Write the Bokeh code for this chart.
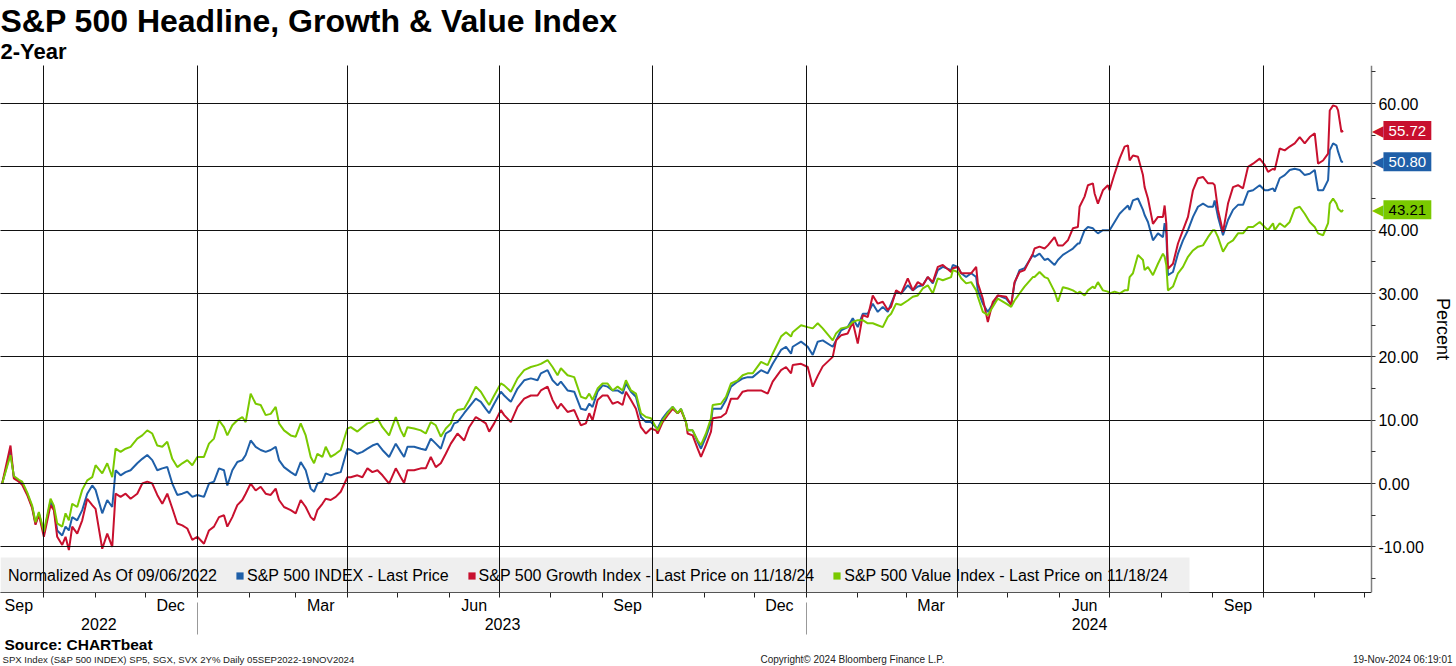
import pandas as pd
from bokeh.plotting import figure
from bokeh.layouts import column
from bokeh.models import (ColumnDataSource, Range1d, FixedTicker, DatetimeAxis, BoxAnnotation,
                          NumeralTickFormatter, Legend, LegendItem, Label, Title)
from bokeh.embed import file_html
from bokeh.resources import INLINE

# ---------------- data ----------------
start_date = "2022-09-05"
# calendar days after start_date
day_offset = [
    1, 6, 8, 11, 13, 16, 19, 21, 23, 26,
    30, 32, 34, 37, 39, 41, 43, 46, 49, 52,
    55, 57, 61, 64, 67, 69, 72, 75, 78, 82,
    85, 88, 91, 94, 97, 100, 103, 106, 109, 112,
    115, 118, 122, 125, 128, 131, 134, 136, 139, 142,
    145, 147, 150, 153, 156, 159, 162, 165, 167, 170,
    174, 177, 180, 183, 186, 188, 190, 193, 195, 198,
    201, 204, 208, 210, 214, 217, 220, 223, 226, 229,
    233, 237, 240, 242, 244, 248, 252, 255, 258, 261,
    264, 267, 270, 272, 274, 278, 281, 285, 288, 291,
    293, 296, 300, 302, 306, 310, 314, 318, 322, 324,
    328, 331, 334, 336, 340, 344, 348, 351, 353, 355,
    358, 361, 364, 367, 370, 373, 375, 378, 381, 384,
    387, 390, 393, 394, 397, 400, 403, 406, 408, 411,
    412, 415, 418, 420, 423, 426, 427, 432, 435, 438,
    442, 445, 448, 451, 456, 460, 463, 468, 471, 474,
    475, 480, 484, 487, 490, 493, 499, 501, 504, 508,
    511, 514, 517, 520, 523, 526, 529, 532, 534, 537,
    540, 544, 547, 550, 553, 556, 559, 562, 565, 570,
    571, 574, 576, 579, 582, 585, 586, 589, 592, 595,
    598, 603, 606, 608, 611, 614, 619, 620, 623, 626,
    628, 632, 634, 637, 640, 643, 646, 647, 650, 652,
    655, 656, 658, 661, 664, 665, 668, 671, 674, 676,
    677, 679, 682, 685, 686, 688, 691, 694, 697, 698,
    699, 700, 703, 706, 709, 712, 715, 718, 721, 724,
    727, 728, 730, 733, 736, 739, 742, 745, 748, 751,
    755, 758, 760, 763, 764, 767, 770, 773, 776, 779,
    782, 785, 788, 790, 793, 796, 797, 799, 801, 802,
    804, 805,
]
value_idx = [
    0, 4.5, 1.2, 0.6, 0.3, -1.4, -3.5, -6.1, -4.5, -7.6,
    -2.4, -3.5, -6.3, -6.8, -4.7, -5.8, -3.2, -3.7, -1.0, 0.5,
    1.0, 2.9, 1.6, 3.2, 1.0, 5.5, 5.0, 5.5, 5.8, 7.1,
    7.6, 8.4, 7.9, 6.0, 5.8, 6.6, 3.9, 2.6, 3.2, 3.7,
    2.9, 4.2, 4.2, 6.3, 7.1, 10.0, 8.9, 7.6, 9.2, 10.0,
    10.5, 9.7, 14.2, 12.6, 12.4, 10.8, 11.0, 12.1, 9.5, 8.4,
    7.6, 7.4, 9.5, 7.6, 4.2, 3.2, 4.7, 4.2, 5.8, 4.2,
    4.7, 5.3, 8.7, 8.9, 8.2, 8.9, 9.5, 9.7, 10.3, 8.9,
    7.6, 10.5, 8.4, 7.4, 8.9, 8.7, 8.4, 7.9, 9.7, 9.2,
    7.4, 8.7, 9.5, 11.0, 11.6, 11.8, 13.2, 15.3, 14.5, 13.2,
    12.4, 13.9, 15.8, 15.5, 14.5, 16.6, 17.9, 18.4, 18.7, 18.9,
    19.5, 18.4, 17.1, 18.2, 17.1, 16.8, 13.7, 13.4, 14.2, 13.2,
    15.0, 15.8, 15.8, 14.7, 15.3, 14.7, 16.3, 14.7, 14.2, 11.1,
    10.5, 10.3, 8.9, 8.4, 10.0, 11.1, 12.1, 11.1, 11.8, 9.7,
    8.4, 8.4, 6.8, 6.1, 7.9, 10.3, 12.4, 12.6, 13.7, 15.8,
    16.3, 17.1, 17.4, 17.4, 19.2, 18.7, 20.5, 23.2, 23.9, 23.2,
    23.9, 25.0, 24.7, 24.5, 25.3, 24.5, 22.6, 23.7, 24.5, 24.7,
    25.5, 25.8, 25.8, 25.3, 25.3, 25.0, 24.7, 26.3, 26.8, 28.4,
    28.2, 28.9, 29.5, 29.7, 30.8, 31.3, 30.0, 32.4, 32.1, 32.6,
    33.7, 33.4, 32.4, 31.6, 31.8, 30.5, 29.5, 27.1, 26.6, 27.9,
    29.2, 28.4, 27.9, 28.9, 30.0, 31.1, 32.6, 32.6, 33.4, 32.6,
    32.4, 30.3, 28.7, 31.0, 30.8, 30.5, 30.0, 30.3, 29.7, 30.5,
    31.1, 30.8, 31.8, 30.5, 30.3, 30.0, 30.3, 30.0, 30.5, 30.5,
    32.6, 33.2, 36.1, 35.3, 33.7, 34.2, 32.9, 34.7, 36.3, 35.8,
    34.5, 30.5, 31.1, 33.2, 34.2, 35.8, 36.8, 37.4, 37.6, 38.9,
    40.0, 40.0, 38.9, 36.6, 37.9, 38.4, 39.5, 39.5, 40.5, 40.5,
    41.3, 40.5, 40.0, 41.1, 40.0, 41.1, 40.5, 41.3, 43.4, 43.7,
    42.6, 41.3, 40.5, 39.5, 39.2, 41.1, 44.2, 45.0, 44.2, 43.4,
    42.9, 43.21,
]
spx = [
    0, 5.0, 1.0, 0.4, 0.0, -1.6, -3.7, -6.3, -4.7, -7.9,
    -2.8, -3.9, -7.4, -8.2, -6.8, -7.4, -5.3, -5.8, -4.2, -1.6,
    -0.3, -1.0, -4.7, -2.6, -3.7, 2.1, 1.3, 1.8, 2.1, 3.2,
    3.9, 4.5, 3.7, 2.1, 2.4, 2.6, 0.0, -1.8, -1.6, -1.3,
    -2.1, -1.8, -2.1, 0.0, 0.3, 2.4, 2.1, -0.3, 2.1, 3.4,
    3.7, 4.5, 6.8, 5.8, 5.3, 5.0, 5.3, 5.8, 3.7, 2.6,
    1.8, 1.3, 3.4, 2.1, -0.8, -1.3, 0.0, 0.3, 1.6, 1.3,
    1.6, 1.8, 5.5, 5.3, 4.7, 5.0, 5.5, 6.0, 6.3, 5.3,
    4.2, 6.3, 5.0, 4.2, 5.8, 5.8, 5.5, 5.3, 7.1, 6.3,
    5.5, 7.9, 8.4, 9.5, 9.7, 11.1, 12.1, 13.4, 12.9, 11.8,
    11.1, 12.6, 14.5, 13.9, 12.9, 15.0, 16.3, 16.6, 16.3, 17.4,
    17.9, 16.3, 15.5, 16.1, 14.7, 14.5, 11.8, 11.6, 12.6, 12.1,
    14.5, 15.5, 15.3, 14.7, 14.7, 14.2, 15.8, 14.5, 13.7, 10.5,
    9.7, 9.7, 8.9, 8.7, 10.3, 11.3, 12.1, 11.1, 11.8, 9.7,
    8.4, 8.4, 6.6, 5.5, 7.4, 9.7, 11.8, 11.8, 13.2, 15.3,
    16.1, 16.6, 16.8, 16.8, 17.9, 17.4, 18.9, 21.1, 21.6, 20.5,
    21.6, 22.4, 21.6, 20.3, 22.4, 22.6, 21.6, 22.6, 24.2, 24.7,
    26.1, 24.7, 26.8, 26.8, 28.4, 27.1, 27.9, 27.1, 28.4, 30.3,
    30.0, 31.3, 30.5, 31.1, 31.3, 32.6, 31.6, 33.7, 34.2, 33.7,
    34.5, 34.2, 33.2, 32.6, 33.2, 32.6, 30.5, 28.4, 27.1, 28.4,
    29.7, 29.2, 28.2, 31.6, 33.7, 34.0, 36.1, 35.8, 36.3, 35.3,
    35.5, 34.5, 35.3, 36.1, 36.6, 37.1, 37.9, 37.9, 40.0, 40.5,
    40.3, 40.0, 39.5, 40.0, 40.0, 40.0, 41.3, 42.6, 43.4, 43.9,
    43.2, 44.7, 45.0, 43.2, 42.4, 41.3, 38.4, 39.5, 38.9, 41.1,
    39.5, 32.9, 33.4, 36.3, 38.4, 40.0, 42.1, 43.7, 44.2, 43.7,
    43.7, 44.7, 42.1, 39.2, 41.6, 43.2, 44.0, 44.0, 46.1, 46.3,
    47.1, 46.3, 46.3, 46.6, 46.1, 48.2, 48.7, 49.5, 49.7, 49.5,
    48.7, 48.9, 49.5, 46.3, 46.3, 47.9, 52.6, 53.7, 53.4, 52.4,
    50.8, 50.80,
]
growth = [
    0, 6.0, 0.8, 0.3, -0.2, -1.8, -3.9, -6.5, -4.9, -8.4,
    -3.4, -4.2, -8.4, -9.7, -8.4, -10.5, -6.8, -7.9, -5.8, -2.4,
    -3.4, -4.0, -10.3, -7.9, -10.0, -1.6, -2.1, -1.6, -2.4, -1.6,
    0.0, 0.3, 0.0, -1.8, -3.2, -1.6, -3.9, -6.3, -6.6, -7.1,
    -8.9, -8.4, -9.5, -7.4, -6.8, -5.3, -5.0, -6.8, -5.3, -3.4,
    -2.6, -1.6, 0.0, -1.1, -0.5, -1.6, -1.8, -0.8, -2.6, -3.7,
    -4.2, -4.7, -2.6, -3.7, -5.3, -5.8, -4.2, -3.2, -2.4, -2.6,
    -2.1, -1.3, 1.0, 1.0, 1.3, 1.0, 2.4, 1.8, 2.1, 1.3,
    0.0, 2.4, 1.0, 0.1, 2.1, 2.1, 2.4, 2.4, 4.2, 2.6,
    3.2, 4.7, 6.3, 7.1, 7.9, 6.8, 8.9, 10.5, 10.0, 9.5,
    8.2, 9.5, 11.6, 10.8, 9.7, 12.1, 13.4, 13.9, 13.9, 14.7,
    15.3, 13.2, 11.8, 12.6, 11.3, 11.6, 9.2, 9.5, 11.1, 10.0,
    13.2, 13.9, 13.9, 12.6, 12.9, 12.4, 14.5, 13.2, 11.8, 8.9,
    7.9, 8.7, 8.4, 7.9, 9.7, 10.8, 11.8, 11.1, 11.6, 9.7,
    7.9, 7.6, 5.5, 4.2, 6.1, 8.2, 10.3, 10.5, 11.1, 13.4,
    13.4, 14.5, 14.7, 14.7, 14.7, 14.2, 16.1, 17.9, 18.4, 17.4,
    18.7, 18.9, 18.4, 15.3, 17.0, 18.5, 20.0, 22.6, 23.4, 23.7,
    25.5, 22.1, 26.6, 26.3, 29.7, 28.4, 28.7, 27.4, 27.9, 30.5,
    30.0, 32.4, 30.5, 31.8, 31.3, 32.6, 31.8, 34.2, 34.5, 33.4,
    34.0, 34.2, 33.2, 33.2, 33.2, 34.2, 31.6, 29.2, 25.5, 28.7,
    29.7, 29.5, 28.2, 31.8, 33.4, 33.7, 36.3, 37.1, 37.4, 37.1,
    37.6, 38.9, 37.6, 37.6, 38.4, 40.3, 40.5, 43.7, 45.3, 47.1,
    47.4, 45.8, 44.2, 46.3, 47.1, 46.3, 48.9, 51.3, 53.2, 53.4,
    51.0, 51.8, 51.6, 48.7, 46.8, 45.0, 41.0, 42.1, 42.1, 43.9,
    41.1, 33.9, 34.7, 37.9, 40.0, 42.1, 46.3, 48.2, 48.4, 47.4,
    47.4, 47.1, 43.2, 39.7, 44.2, 46.8, 47.1, 46.6, 50.0, 50.5,
    51.3, 50.3, 49.2, 49.7, 49.5, 52.9, 52.6, 53.2, 53.7, 54.7,
    53.7, 54.7, 55.3, 50.5, 51.0, 52.1, 58.9, 59.7, 59.5, 58.9,
    55.5, 55.72,
]

series_labels = ["S&P 500 INDEX - Last Price",
                 "S&P 500 Growth Index - Last Price on 11/18/24",
                 "S&P 500 Value Index - Last Price on 11/18/24"]
legend_title = "Normalized As Of 09/06/2022"
last_values = [50.80, 55.72, 43.21]
y_ticks = [-10, 0, 10, 20, 30, 40, 50, 60]
y_minor = [-15, -5, 5, 15, 25, 35, 45, 55, 65]
month_label_dates = ["2022-09-16", "2022-12-16", "2023-03-16", "2023-06-16", "2023-09-16",
                     "2023-12-16", "2024-03-16", "2024-06-16", "2024-09-16"]
month_label_text = ["Sep", "Dec", "Mar", "Jun", "Sep", "Dec", "Mar", "Jun", "Sep"]
year_label_dates = ["2022-11-03", "2023-07-03", "2024-06-19"]
year_label_text = ["2022", "2023", "2024"]
year_breaks = ["2023-01-01", "2024-01-01"]

BLUE = "#1f5fa8"
RED = "#c8102e"
GREEN = "#7ac900"
FONT = "Liberation Sans"


def ms(d):
    return float(pd.Timestamp(d).value // 10**6)


dates = pd.to_datetime(start_date) + pd.to_timedelta(day_offset, unit="D")
src = ColumnDataSource(dict(date=dates, spx=spx, growth=growth, val=value_idx))

x_start = pd.Timestamp(start_date)
axis_date = pd.Timestamp("2024-12-05")     # where the value axis sits
x_end = pd.Timestamp("2025-01-25")         # room for the value-axis labels

p = figure(width=1456, height=636, x_axis_type="datetime", y_axis_location="right",
           x_range=Range1d(x_start, x_end), y_range=Range1d(-17.2, 66),
           toolbar_location=None, output_backend="svg", title=None,
           min_border_left=0, min_border_right=0, min_border_top=65, min_border_bottom=44,
           outline_line_color=None, background_fill_color="white", border_fill_color="white")

# titles
p.add_layout(Title(text="2-Year", text_font=FONT, text_font_size="22px", text_font_style="bold",
                   text_color="black", align="left", offset=0, standoff=0,
                   vertical_align="top"), "above")
p.add_layout(Title(text="S&P 500 Headline, Growth & Value Index", text_font=FONT,
                   text_font_size="32px", text_font_style="bold", text_color="black",
                   align="left", offset=0, standoff=0), "above")

# lines
r_spx = p.line("date", "spx", source=src, line_color=BLUE, line_width=2)
r_gro = p.line("date", "growth", source=src, line_color=RED, line_width=2)
r_val = p.line("date", "val", source=src, line_color=GREEN, line_width=2)

# grid
quarter_starts = [ms(d) for d in pd.date_range("2022-10-01", "2024-10-01", freq="QS")]
month_starts = [ms(d) for d in pd.date_range("2022-10-01", "2024-12-01", freq="MS")]
xgrid, ygrid = p.xgrid[0], p.ygrid[0]
xgrid.ticker = FixedTicker(ticks=quarter_starts)
ygrid.ticker = FixedTicker(ticks=y_ticks)
for g in (xgrid, ygrid):
    g.grid_line_color = "#111111"
    g.grid_line_width = 1
    g.level = "annotation"

# main x axis (months)
xa = p.below[0]
xa.bounds = (ms(x_start), ms(axis_date))
xa.ticker = FixedTicker(ticks=[ms(d) for d in month_label_dates], minor_ticks=month_starts)
xa.major_label_overrides = {ms(d): t for d, t in zip(month_label_dates, month_label_text)}
xa.major_tick_line_color = None
xa.major_tick_out = 0
xa.major_tick_in = 0
xa.minor_tick_out = 5
xa.minor_tick_in = 0
xa.minor_tick_line_color = "#222222"
xa.axis_line_color = "#222222"
xa.major_label_standoff = -1
xa.major_label_text_font = FONT
xa.major_label_text_font_size = "16px"
xa.major_label_text_color = "black"

# year axis
ya2 = DatetimeAxis(ticker=FixedTicker(ticks=[ms(d) for d in year_label_dates],
                                      minor_ticks=[ms(d) for d in year_breaks]),
                   major_label_overrides={ms(d): t for d, t in zip(year_label_dates, year_label_text)},
                   axis_line_color=None, major_tick_line_color=None, major_tick_out=0, major_tick_in=0,
                   minor_tick_line_color="#999999", minor_tick_in=14, minor_tick_out=18,
                   major_label_standoff=-17, major_label_text_font=FONT,
                   major_label_text_font_size="16px", major_label_text_color="black")
p.add_layout(ya2, "below")

# value axis, drawn at a fixed date so that the tags can sit over its labels
ya = p.right[0]
ya.fixed_location = ms(axis_date)
ya.level = "overlay"
ya.ticker = FixedTicker(ticks=y_ticks, minor_ticks=y_minor)
ya.formatter = NumeralTickFormatter(format="0.00")
ya.major_label_overrides = {50: ""}     # hidden under the 50.80 tag in the original
ya.axis_line_color = "#7f7f7f"
ya.axis_line_width = 1.5
ya.major_tick_out = 4
ya.major_tick_in = 0
ya.minor_tick_out = 4
ya.minor_tick_in = 0
ya.major_tick_line_color = "#333333"
ya.minor_tick_line_color = "#333333"
ya.major_label_standoff = 3
ya.major_label_text_font = FONT
ya.major_label_text_font_size = "16px"
ya.major_label_text_color = "black"
ya.axis_label = "Percent"
ya.axis_label_text_font = FONT
ya.axis_label_text_font_size = "18px"
ya.axis_label_text_font_style = "normal"
ya.axis_label_text_color = "black"
ya.axis_label_standoff = 6

# grey legend band along the bottom of the plot
band = BoxAnnotation(top=35, top_units="screen", right=1189, right_units="screen",
                     fill_color="#efefef", fill_alpha=1.0, line_color=None, level="annotation")
p.add_layout(band)

# legend (swatches are small squares)
nan = float("nan")
blank = p.quad(left=[], right=[], top=[], bottom=[], fill_alpha=0, line_alpha=0)
sw = [p.quad(left=[nan], right=[nan], top=[nan], bottom=[nan], fill_color=c, line_color=None)
      for c in (BLUE, RED, GREEN)]
items = [LegendItem(label=legend_title, renderers=[blank])] + \
        [LegendItem(label=lab, renderers=[r]) for lab, r in zip(series_labels, sw)]
legend = Legend(items=items, location=(-4, 6), orientation="horizontal", margin=0, padding=7,
                spacing=18, glyph_width=9, glyph_height=9, label_standoff=3, label_height=21,
                label_text_font=FONT, label_text_font_size="16px", label_text_color="black",
                background_fill_alpha=0.0, border_line_color=None)
p.add_layout(legend)

# blank strip right of the value axis (grid lines stop at the axis)
strip = BoxAnnotation(left=ms(axis_date), fill_color="white", fill_alpha=1.0, line_color=None,
                      level="annotation")
p.add_layout(strip)

# last-value tags
tags = []
for v, c, tc in zip(last_values, (BLUE, RED, GREEN), ("white", "white", "black")):
    tags.append(Label(x=ms(axis_date), y=v, x_units="data", y_units="data", x_offset=12,
                      text="◀", text_align="right", text_baseline="middle",
                      text_font="DejaVu Sans", text_font_size="15px", text_color=c))
    tags.append(Label(x=ms(axis_date), y=v, x_units="data", y_units="data", x_offset=12,
                      text=f"\u00a0{v:.2f}\u00a0", text_align="left", text_baseline="middle",
                      text_font=FONT, text_font_size="15px", text_color=tc,
                      background_fill_color=c, background_fill_alpha=1.0, padding=1))
for t in tags:
    p.add_layout(t)

# paint order inside the frame: band, legend, grid, strip, tags
p.center = [band, legend, xgrid, ygrid, strip] + tags

# footer
f = figure(width=1456, height=30, x_range=Range1d(0, 1456), y_range=Range1d(0, 30),
           toolbar_location=None, output_backend="svg", x_axis_location=None,
           y_axis_location=None, min_border=0, outline_line_color=None)
f.grid.visible = False
f.add_layout(Label(x=4, y=22, x_units="screen", y_units="screen", text="Source: CHARTbeat",
                   text_font=FONT, text_font_size="15.5px", text_font_style="bold",
                   text_color="black", text_baseline="alphabetic"))
f.add_layout(Label(x=2, y=7, x_units="screen", y_units="screen",
                   text="SPX Index (S&P 500 INDEX) SP5, SGX, SVX 2Y%  Daily 05SEP2022-19NOV2024",
                   text_font=FONT, text_font_size="9.6px", text_color="#222222",
                   text_baseline="alphabetic"))
f.add_layout(Label(x=760, y=7, x_units="screen", y_units="screen",
                   text="Copyright© 2024 Bloomberg Finance L.P.",
                   text_font=FONT, text_font_size="10px", text_color="#222222",
                   text_baseline="alphabetic"))
f.add_layout(Label(x=1452, y=7, x_units="screen", y_units="screen",
                   text="19-Nov-2024 06:19:01", text_align="right",
                   text_font=FONT, text_font_size="10px", text_color="#222222",
                   text_baseline="alphabetic"))

open("out.html", "w").write(file_html(column(p, f, spacing=0), INLINE))
